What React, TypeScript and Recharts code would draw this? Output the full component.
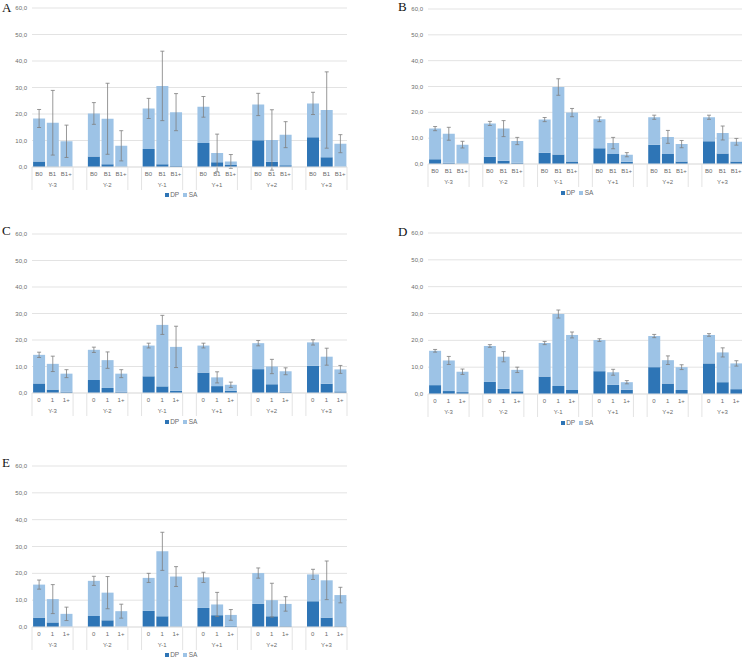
import { BarChart, Bar, XAxis, YAxis, CartesianGrid, ErrorBar, Legend } from "recharts";

const GROUPS = ["Y-3", "Y-2", "Y-1", "Y+1", "Y+2", "Y+3"];
const LABELS_B = ["B0", "B1", "B1+"];
const LABELS_N = ["0", "1", "1+"];
const Y_TICKS = [0, 10, 20, 30, 40, 50, 60];

// panel A
const A_DP = [2.1, 0.2, 0.1, 4.0, 1.0, 0.2, 6.8, 1.0, 0.4, 9.1, 1.8, 0.8, 10.1, 2.0, 0.7, 11.2, 3.7, 0.1];
const A_SA = [16.2, 16.5, 9.6, 16.2, 17.2, 7.8, 15.3, 29.6, 20.3, 13.6, 3.5, 1.3, 13.5, 8.2, 11.5, 12.8, 17.8, 8.7];
const A_ERR = [3.4, 12.2, 6.1, 4.1, 13.4, 5.7, 3.8, 13.1, 7.0, 3.9, 7.1, 2.6, 4.2, 11.4, 4.9, 4.2, 14.4, 3.4];

// panel B
const B_DP = [1.8, 0.5, 0.2, 2.8, 1.3, 0.5, 4.4, 3.7, 1.0, 6.1, 3.9, 0.9, 7.5, 3.9, 1.0, 8.8, 4.1, 1.0];
const B_SA = [11.9, 11.2, 7.3, 12.9, 12.4, 8.4, 12.8, 26.1, 18.9, 11.2, 4.2, 2.7, 10.6, 6.6, 6.7, 9.3, 7.9, 7.6];
const B_ERR = [0.8, 2.5, 1.3, 0.8, 3.1, 1.4, 0.8, 3.2, 1.6, 0.9, 2.2, 0.8, 0.8, 2.5, 1.4, 0.8, 2.7, 1.3];

// panel C
const C_DP = [3.6, 1.3, 0.5, 4.9, 1.9, 0.5, 6.3, 2.5, 0.8, 7.7, 2.6, 0.8, 9.0, 3.3, 0.5, 10.3, 3.5, 0.6];
const C_SA = [10.8, 9.7, 6.8, 11.4, 10.5, 6.8, 11.6, 23.2, 16.6, 10.2, 3.3, 2.3, 9.8, 6.7, 7.7, 8.8, 10.2, 8.3];
const C_ERR = [1.0, 2.9, 1.5, 1.0, 3.1, 1.5, 0.9, 3.6, 7.8, 0.9, 2.1, 1.0, 1.0, 2.7, 1.3, 1.0, 3.2, 1.5];

// panel D
const D_DP = [3.3, 1.1, 0.7, 4.5, 1.9, 1.0, 6.5, 3.0, 1.5, 8.5, 3.4, 1.6, 10.0, 3.9, 1.5, 11.4, 4.4, 1.8];
const D_SA = [12.8, 11.4, 7.6, 13.4, 12.0, 8.0, 12.5, 26.8, 20.5, 11.6, 4.7, 2.8, 11.6, 8.7, 8.5, 10.6, 11.1, 9.6];
const D_ERR = [0.5, 1.5, 1.0, 0.5, 1.9, 1.0, 0.6, 1.5, 1.1, 0.5, 1.1, 0.6, 0.6, 1.6, 0.9, 0.5, 1.7, 1.0];

// panel E
const E_DP = [3.5, 1.7, 0.1, 4.1, 2.5, 0.1, 6.0, 4.0, 0.2, 7.1, 4.4, 0.4, 8.6, 4.0, 0.3, 9.6, 3.5, 0.3];
const E_SA = [12.3, 8.7, 4.8, 13.1, 10.3, 5.8, 12.3, 24.2, 18.6, 11.4, 4.0, 4.1, 11.5, 6.0, 8.3, 10.0, 13.9, 11.6];
const E_ERR = [1.7, 5.4, 2.5, 1.7, 6.0, 2.6, 1.7, 7.1, 3.7, 1.9, 4.5, 2.0, 1.9, 6.3, 2.7, 1.9, 7.2, 2.9];

const DP_COLOR = "#2e75b6";
const SA_COLOR = "#9dc3e6";
const GRID = "#e3e3e3";
const TEXT = "#6b6b6b";
const ERR_COLOR = "#7f7f7f";
const FONT = "'Liberation Sans', Arial, sans-serif";

const CHART_W = 350;
const MARGIN_L = 2;
const MARGIN_R = 3;
const Y_AXIS_W = 30;
const SLOTS = 23;
const SLOT_W = (CHART_W - MARGIN_L - MARGIN_R - Y_AXIS_W) / SLOTS;

type Row = {
  key: string;
  label: string;
  group: string;
  pos: number;
  DP: number | null;
  SA: number | null;
  err: number | null;
};

function buildRows(dp: number[], sa: number[], err: number[], labels: string[]): Row[] {
  const rows: Row[] = [];
  GROUPS.forEach((g, gi) => {
    labels.forEach((l, k) => {
      const i = gi * 3 + k;
      rows.push({ key: `${g}|${l}`, label: l, group: g, pos: k, DP: dp[i], SA: sa[i], err: err[i] });
    });
    if (gi < GROUPS.length - 1) {
      rows.push({ key: `gap${gi}`, label: "", group: "", pos: 3, DP: null, SA: null, err: null });
    }
  });
  return rows;
}

interface PanelProps {
  letter: string;
  rows: Row[];
  left: number;
  top: number;
  marginTop: number;
  plotH: number;
  axisH: number;
  letterX: number;
  letterY: number;
}

function Panel({ letter, rows, left, top, marginTop, plotH, axisH, letterX, letterY }: PanelProps) {
  const legendH = 10;
  const height = marginTop + plotH + axisH + legendH;
  const axisY = marginTop + plotH;

  const renderTick = (props: any) => {
    const { x, index } = props;
    const row = rows[index];
    if (!row) return <g />;
    return (
      <g>
        {row.label && (
          <text x={x} y={axisY + 7} textAnchor="middle" dominantBaseline="central" fontSize={6} fill={TEXT} fontFamily={FONT}>
            {row.label}
          </text>
        )}
        {row.pos === 1 && (
          <text x={x} y={axisY + 18} textAnchor="middle" dominantBaseline="central" fontSize={6} fill={TEXT} fontFamily={FONT}>
            {row.group}
          </text>
        )}
        {row.pos === 0 && (
          <line x1={x - SLOT_W / 2} x2={x - SLOT_W / 2} y1={axisY} y2={axisY + 23} stroke={GRID} strokeWidth={1} />
        )}
        {row.pos === 2 && (
          <line x1={x + SLOT_W / 2} x2={x + SLOT_W / 2} y1={axisY} y2={axisY + 23} stroke={GRID} strokeWidth={1} />
        )}
      </g>
    );
  };

  return (
    <div style={{ position: "absolute", left, top, width: CHART_W, height }}>
      <div
        style={{
          position: "absolute",
          left: letterX,
          top: letterY,
          fontFamily: "'Liberation Serif', 'Times New Roman', serif",
          fontSize: 13,
          lineHeight: "13px",
          color: "#111",
        }}
      >
        {letter}
      </div>
      <BarChart
        width={CHART_W}
        height={height}
        data={rows}
        margin={{ top: marginTop, right: MARGIN_R, left: MARGIN_L, bottom: 0 }}
        barCategoryGap="8%"
      >
        <CartesianGrid vertical={false} stroke={GRID} strokeWidth={1} />
        <XAxis
          dataKey="key"
          interval={0}
          tickLine={false}
          axisLine={{ stroke: GRID }}
          height={axisH}
          tick={renderTick}
        />
        <YAxis
          width={Y_AXIS_W}
          domain={[0, 60]}
          ticks={Y_TICKS}
          allowDataOverflow
          axisLine={false}
          tickLine={false}
          tickSize={3}
          tickMargin={2}
          tick={{ fontSize: 6, fill: TEXT, fontFamily: FONT }}
          tickFormatter={(v: number) => v.toFixed(1).replace(".", ",")}
        />
        <Legend
          verticalAlign="bottom"
          height={legendH}
          wrapperStyle={{ left: 0, width: 366 }}
          content={(p: any) => (
            <div style={{ textAlign: "center", fontFamily: FONT, fontSize: 6.5, color: TEXT, lineHeight: "10px" }}>
              {(p.payload || []).map((e: any) => (
                <span key={e.value} style={{ marginRight: 4 }}>
                  <span style={{ display: "inline-block", width: 4, height: 4, background: e.color, marginRight: 1.5 }} />
                  {e.value}
                </span>
              ))}
            </div>
          )}
        />
        <Bar dataKey="DP" stackId="s" fill={DP_COLOR} isAnimationActive={false} />
        <Bar dataKey="SA" stackId="s" fill={SA_COLOR} isAnimationActive={false}>
          <ErrorBar dataKey="err" width={2} stroke={ERR_COLOR} strokeWidth={0.8} direction="y" />
        </Bar>
      </BarChart>
    </div>
  );
}

export default function App() {
  const rowsA = buildRows(A_DP, A_SA, A_ERR, LABELS_B);
  const rowsB = buildRows(B_DP, B_SA, B_ERR, LABELS_B);
  const rowsC = buildRows(C_DP, C_SA, C_ERR, LABELS_N);
  const rowsD = buildRows(D_DP, D_SA, D_ERR, LABELS_N);
  const rowsE = buildRows(E_DP, E_SA, E_ERR, LABELS_N);

  return (
    <div
      style={{
        position: "absolute",
        left: 0,
        top: 0,
        width: 742,
        height: 658,
        overflow: "hidden",
        background: "#fff",
      }}
    >
      <Panel letter="A" rows={rowsA} left={0} top={0} marginTop={8} plotH={159} axisH={23} letterX={2} letterY={1} />
      <Panel letter="B" rows={rowsB} left={396} top={0} marginTop={9} plotH={155} axisH={24} letterX={2} letterY={0} />
      <Panel letter="C" rows={rowsC} left={0} top={226} marginTop={8} plotH={159} axisH={24} letterX={2} letterY={-2} />
      <Panel letter="D" rows={rowsD} left={396} top={225} marginTop={8} plotH={161} axisH={24} letterX={2} letterY={0} />
      <Panel letter="E" rows={rowsE} left={0} top={458} marginTop={8} plotH={161} axisH={23} letterX={2} letterY={-2} />
    </div>
  );
}
